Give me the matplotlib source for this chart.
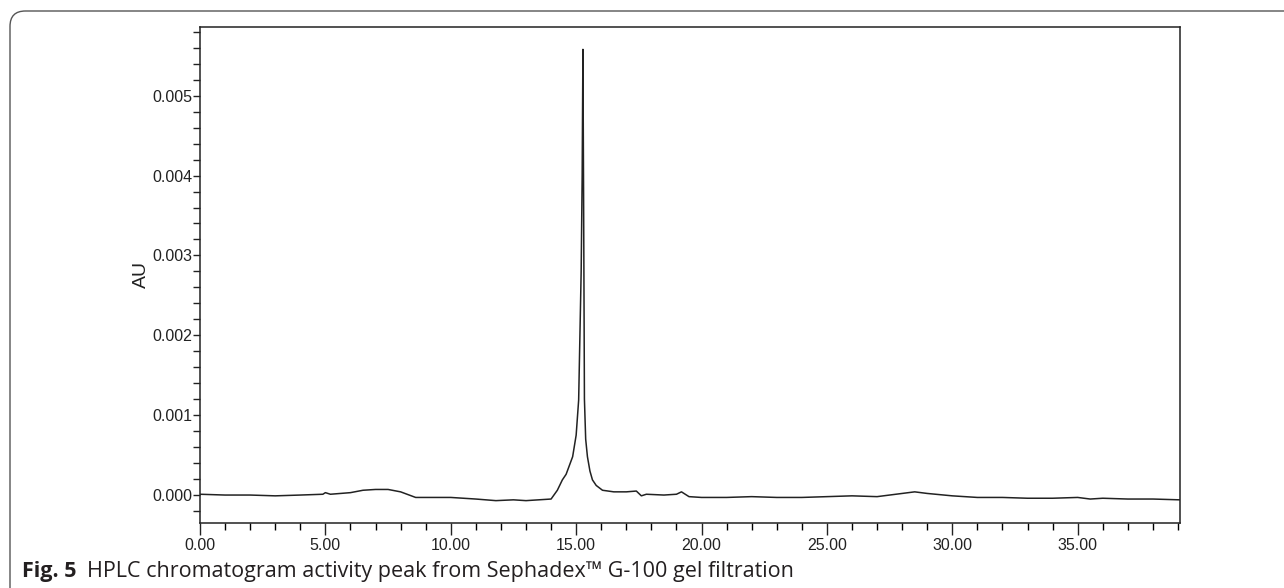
import numpy as np
import matplotlib.pyplot as plt
from matplotlib.patches import FancyBboxPatch
from matplotlib.ticker import MultipleLocator, FormatStrFormatter

# Retention time (min) and absorbance (x 1e-3 AU)
time_min = [0.0, 1.0, 2.0, 3.0, 4.0, 4.9, 5.0, 5.2, 6.0, 6.5, 7.0, 7.5, 8.0, 8.6,
            9.0, 10.0, 11.0, 11.8, 12.5, 13.0, 13.5, 14.0, 14.25, 14.45, 14.6,
            14.86, 15.0, 15.1, 15.2, 15.24, 15.27, 15.3, 15.33, 15.38, 15.45,
            15.55, 15.65, 15.8, 16.05, 16.5, 17.0, 17.4, 17.6, 17.8, 18.5, 19.0,
            19.2, 19.5, 20.0, 21.0, 22.0, 23.0, 24.0, 25.0, 26.0, 27.0, 28.0,
            28.5, 29.0, 30.0, 31.0, 32.0, 33.0, 34.0, 35.0, 35.5, 36.0, 37.0,
            38.0, 39.07]
au_milli = [0.01, 0.00, 0.00, -0.01, 0.00, 0.01, 0.03, 0.01, 0.03, 0.06, 0.07,
            0.07, 0.04, -0.03, -0.03, -0.03, -0.05, -0.07, -0.06, -0.07, -0.06,
            -0.05, 0.06, 0.19, 0.26, 0.48, 0.75, 1.19, 2.80, 4.00, 5.58, 3.50,
            1.20, 0.70, 0.48, 0.30, 0.19, 0.12, 0.06, 0.04, 0.04, 0.05, -0.01,
            0.01, 0.00, 0.01, 0.04, -0.02, -0.03, -0.03, -0.02, -0.03, -0.03,
            -0.02, -0.01, -0.02, 0.02, 0.04, 0.02, -0.01, -0.03, -0.03, -0.04,
            -0.04, -0.03, -0.05, -0.04, -0.05, -0.05, -0.06]

caption_bold = "Fig. 5"
caption_text = "HPLC chromatogram activity peak from Sephadex\u2122 G-100 gel filtration"

t = np.array(time_min)
au = np.array(au_milli) * 1e-3

plt.rcParams['font.family'] = ['Liberation Sans', 'DejaVu Sans']

W, H = 1284, 588
fig = plt.figure(figsize=(W / 100, H / 100), dpi=100)
ax = fig.add_axes([200 / W, 1 - 523 / H, 980 / W, 496 / H])

ax.plot(t, au, color='#222222', lw=1.1)

ax.set_xlim(0, 39.08)
ax.set_ylim(-0.00035, 0.00586)

ax.xaxis.set_major_locator(MultipleLocator(5))
ax.xaxis.set_minor_locator(MultipleLocator(1))
ax.yaxis.set_major_locator(MultipleLocator(0.001))
ax.yaxis.set_minor_locator(MultipleLocator(0.0002))
ax.xaxis.set_major_formatter(FormatStrFormatter('%.2f'))
ax.yaxis.set_major_formatter(FormatStrFormatter('%.3f'))

ax.tick_params(axis='x', which='major', direction='out', length=8.5, width=1,
               pad=2, labelsize=11.5, colors='#222222')
ax.tick_params(axis='x', which='minor', direction='out', length=5, width=1)
ax.tick_params(axis='y', which='both', direction='out', length=5, width=1,
               pad=0.5, labelsize=11.5, colors='#222222')
for s in ax.spines.values():
    s.set_linewidth(1.1)
    s.set_color('#222222')

ax.set_ylabel("AU", fontsize=14, color='#222222')
ax.yaxis.set_label_coords(-0.051, 0.5)

# rounded frame round the figure
frame = FancyBboxPatch((10 / W, -20 / H), 1400 / W, (H - 11 + 20) / H,
                       boxstyle="round,pad=0,rounding_size=0.012",
                       transform=fig.transFigure, fill=False,
                       edgecolor='#555555', lw=1.0, mutation_aspect=W / H)
fig.patches.append(frame)

cap_y = 1 - 572 / H
fig.text(22 / W, cap_y, caption_bold, fontsize=15.5, fontweight='bold',
         family='Open Sans', color='#231f20', va='center')
fig.text(87 / W, cap_y, caption_text, fontsize=15.5, family='Open Sans',
         color='#231f20', va='center')

fig.savefig("out.png", dpi=100)
